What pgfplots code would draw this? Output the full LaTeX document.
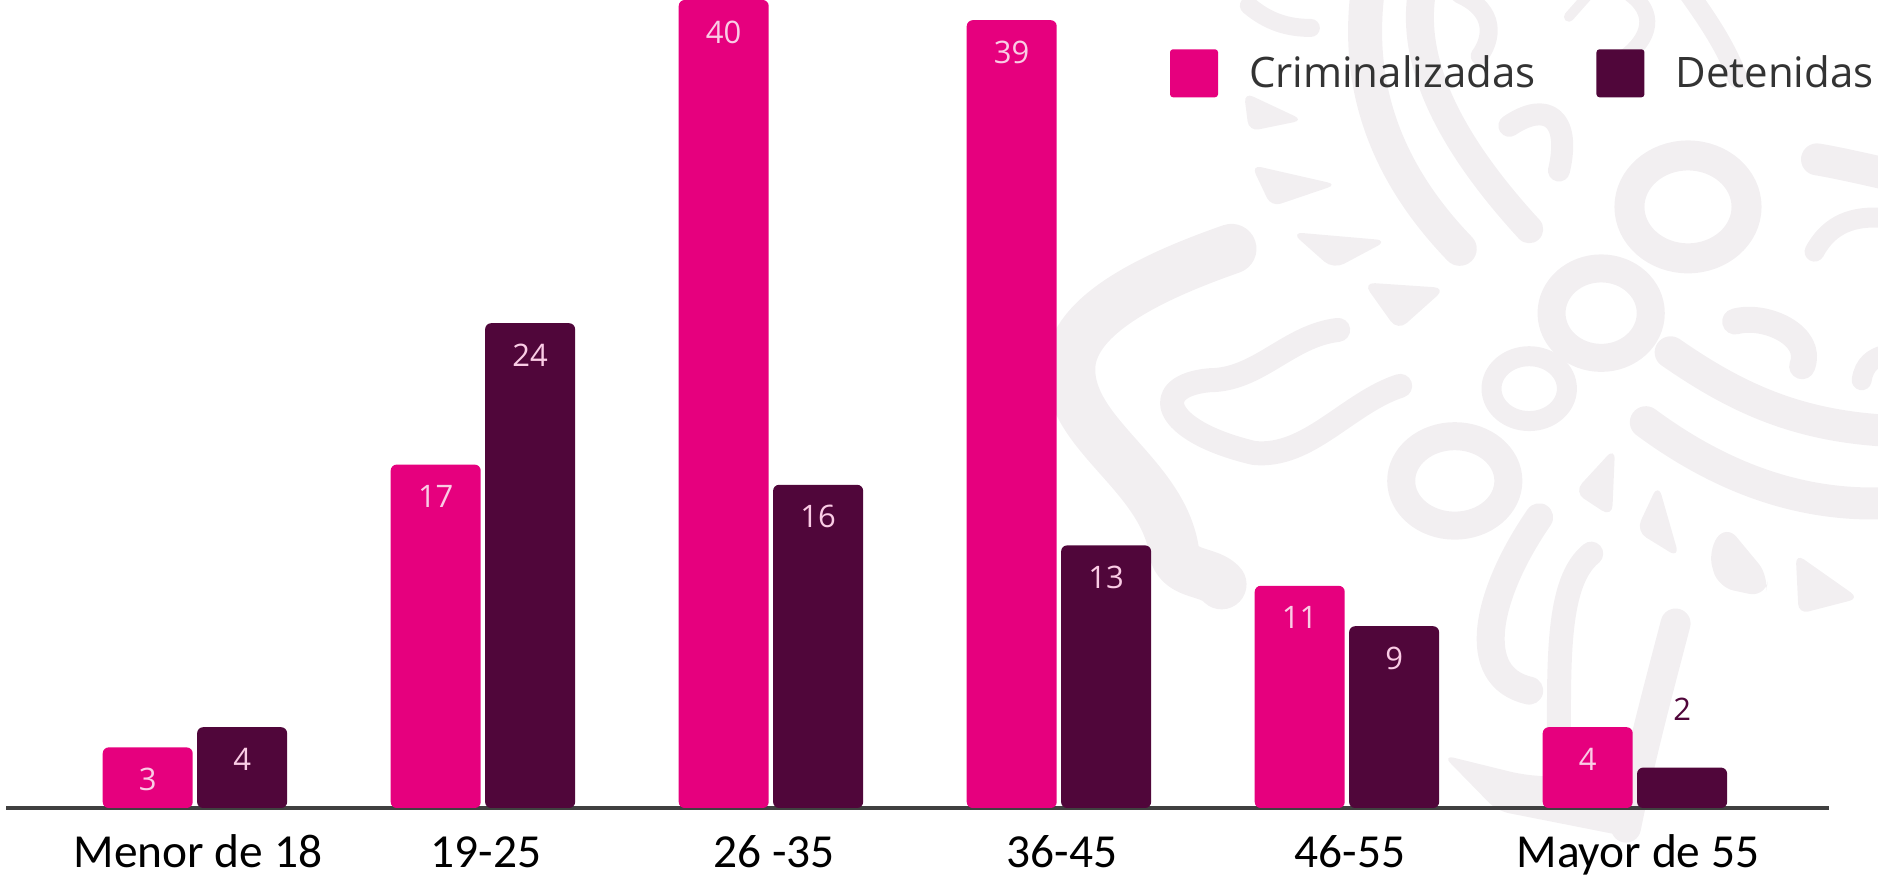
\documentclass[border=0pt]{standalone}
\usepackage{fontspec}
\setmainfont{Open Sans}
\newfontfamily\calib{Carlito}
\usepackage{pgfplots}
\pgfplotsset{compat=1.18}
\definecolor{crimi}{HTML}{E6007E}
\definecolor{deten}{HTML}{50063A}
\definecolor{fondo}{HTML}{F2EFF1}
\definecolor{ejeline}{HTML}{404040}
\colorlet{etiqueta}{white!80!crimi}

\begin{document}
\begin{tikzpicture}
% full image is 1878x877 px at 0.5pt per px, axis origin sits at px (6,808)
\useasboundingbox (-3pt,-34.5pt) rectangle (936pt,404pt);

% watermark, coordinates read from the crop of the right side
\begin{scope}[shift={(547pt,404pt)}, x=0.2481pt, y=-0.2796pt, color=fondo, line cap=round, line join=round]
  \begin{scope}
  \clip (-220,0) rectangle (1568,1568);
  \draw[line width=17pt] (540,-20) .. controls (510,180) and (600,330) .. (725,445);
  \draw[line width=14pt] (650,-20) .. controls (620,120) and (720,270) .. (865,410);
  \draw[line width=9pt] (300,10) .. controls (340,40) and (380,50) .. (425,50);
  \draw[line width=9pt] (725,-10) .. controls (800,20) and (790,70) .. (765,100);
  \draw[line width=8pt] (1070,-10) .. controls (1130,30) and (1100,80) .. (1045,110);
  \draw[line width=10pt] (1180,-20) .. controls (1220,30) and (1260,80) .. (1285,140);
  \draw[line width=5pt] (945,30) -- (985,-10);
  \fill[rounded corners=5pt] (290,165) -- (410,215) -- (300,235) -- cycle;
  \fill[rounded corners=5pt] (305,295) -- (478,330) -- (345,370) -- cycle;
  \fill[rounded corners=6pt] (385,415) -- (580,430) -- (470,482) -- cycle;
  \fill[rounded corners=6pt] (530,505) -- (697,515) -- (600,592) -- cycle;
  \draw[line width=11pt] (825,225) .. controls (900,180) and (950,210) .. (925,305);
  \draw[line width=16pt] (1445,285) .. controls (1480,290) and (1530,300) .. (1580,310);
  \draw[line width=10pt] (1440,450) .. controls (1470,400) and (1520,385) .. (1580,390);
  \draw[line width=13pt] (1280,575) .. controls (1340,560) and (1440,600) .. (1415,655);
  \draw[line width=10pt] (1535,680) .. controls (1540,650) and (1560,640) .. (1580,635);
  \draw[line width=16pt] (1150,630) .. controls (1280,710) and (1400,760) .. (1580,770);
  \draw[line width=16pt] (1100,755) .. controls (1260,860) and (1420,905) .. (1580,900);
  % chain of rings
  \draw[line width=15pt] (1185,370) ellipse (118 and 92);
  \draw[line width=14pt] (1010,560) ellipse (100 and 80);
  \draw[line width=10pt] (865,695) ellipse (76 and 58);
  \draw[line width=14pt] (715,860) ellipse (108 and 80);
  % drops
  \fill[rounded corners=6pt] (955,880) -- (1038,800) -- (1032,925) -- cycle;
  \fill[rounded corners=6pt] (1080,950) -- (1125,865) -- (1168,998) -- cycle;
  \fill[rounded corners=8pt] (1225,985) -- (1262,938) -- (1348,1030) -- (1340,1068) -- (1245,1050) -- cycle;
  \fill[rounded corners=5pt] (1402,990) -- (1530,1070) -- (1408,1098) -- cycle;
  % lower strokes
  \draw[line width=14pt] (885,925) .. controls (780,1060) and (740,1210) .. (865,1235);
  \draw[line width=12pt] (990,990) .. controls (920,1040) and (925,1180) .. (925,1340);
  \draw[line width=15pt] (1160,1115) .. controls (1120,1250) and (1090,1350) .. (1060,1480);
  \fill[rounded corners=6pt] (690,1350) -- (850,1385) -- (1060,1400) -- (1085,1500) -- (800,1450) -- cycle;
  % big sweep on the left
  \draw[line width=25pt] (265,445) .. controls (120,490) and (-60,560) .. (-60,660)
     .. controls (-60,780) and (130,850) .. (150,990) .. controls (165,1030) and (220,1020) .. (245,1045);
  \draw[line width=12pt] (480,590) .. controls (380,600) and (320,680) .. (220,680)
     .. controls (100,690) and (120,770) .. (310,810) .. controls (420,820) and (500,720) .. (605,690);
  \end{scope}
\end{scope}

\begin{axis}[
  at={(0,0)}, anchor=south west,
  scale only axis,
  width=911.5pt, height=404pt,
  xmin=-0.656, xmax=5.674,
  ymin=0, ymax=40,
  axis y line=none,
  axis x line*=bottom,
  x axis line style={color=ejeline, line width=2pt, -},
  xtick={0,1,2,3,4,5},
  xticklabels={Menor de 18,19-25,26 -35,36-45,46-55,Mayor de 55},
  major tick length=0pt,
  xticklabel style={font=\calib\fontsize{23.7}{28}\selectfont, text=black, anchor=base, yshift=-30pt, xshift=1.5pt},
  ybar,
  bar width=45pt,
  /pgf/number format/assume math mode=true,
  nodes near coords,
  nodes near coords style={font=\fontsize{15.5}{18}\selectfont, anchor=center, yshift=-16pt},
  legend columns=2,
  legend cell align=left,
  legend image code/.code={\fill[rounded corners=1.5pt, #1] (0pt,-12pt) rectangle (24pt,12pt);},
  legend style={
    at={(rel axis cs:0.6385,0.939)}, anchor=north west,
    draw=none, fill=none, inner sep=0pt, outer sep=0pt,
    font=\fontsize{21}{24}\selectfont, text=black!80,
    /tikz/every even column/.append style={column sep=28.5pt},
    /tikz/every odd column/.append style={column sep=13.5pt},
  },
]
\addplot[fill=crimi, draw=none, rounded corners=3pt, bar shift=-23.6pt, text=etiqueta] coordinates {
  (0,3) (1,17) (2,40) (3,39) (4,11) (5,4)
};
\addplot[fill=deten, draw=none, rounded corners=3pt, bar shift=23.6pt, text=etiqueta,
  coordinate style/.condition={y<3}{yshift=45pt, text=deten}
] coordinates {
  (0,4) (1,24) (2,16) (3,13) (4,9) (5,2)
};
\legend{Criminalizadas,Detenidas}
\end{axis}
\end{tikzpicture}
\end{document}
